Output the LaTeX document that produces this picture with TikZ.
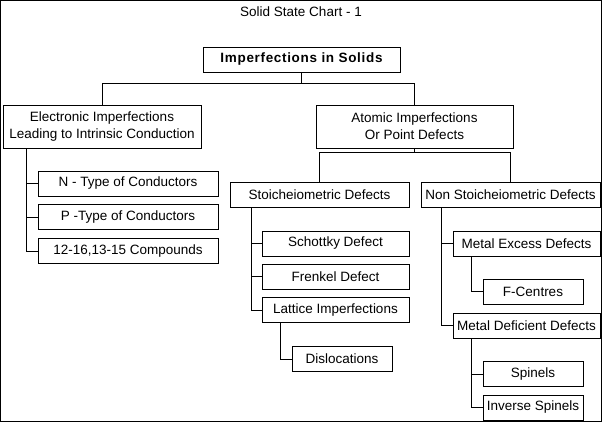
\documentclass[tikz,border=0pt]{standalone}
\usepackage{fontspec}
\setmainfont{Liberation Sans}
\begin{document}
\begin{tikzpicture}[
        x=1pt, y=-1pt,
        line width=1pt,
        font=\fontsize{13.5}{17}\selectfont,
        box/.style={draw, inner sep=0pt, minimum height=25pt, align=center},
        twoline/.style={box, minimum height=43pt},
        link/.style={draw}
    ]
    \useasboundingbox (0,0) rectangle (603,423);
    \draw (0.5,0.5) rectangle (601.5,421.5);
    \node (title) at (301,12) {Solid State Chart - 1};

    % top levels
    \node[box, minimum width=197pt, font=\fontsize{13.5}{17}\selectfont\bfseries\addfontfeature{LetterSpace=5}] (root) at (301.5,59.5) {Imperfections in Solids};
    \node[twoline, minimum width=198pt] (elec) at (102,126.5) {Electronic Imperfections\\Leading to Intrinsic Conduction};
    \node[twoline, minimum width=197pt] (atomic) at (414.5,126.5) {Atomic Imperfections\\Or Point Defects};

    % electronic branch
    \node[box, minimum width=180pt] (ntype) at (128,183.5) {N - Type of Conductors};
    \node[box, minimum width=180pt] (ptype) at (128,217) {P -Type of Conductors};
    \node[box, minimum width=180pt] (compounds) at (128,251) {12-16,13-15 Compounds};

    % atomic branch
    \node[box, minimum width=179pt] (stoich) at (319.5,194.5) {Stoicheiometric Defects};
    \node[box, minimum width=179pt] (nonstoich) at (510.5,194.5) {Non Stoicheiometric Defects};

    \node[box, minimum width=147pt] (schottky) at (335.5,243.5) {Schottky Defect};
    \node[box, minimum width=147pt] (frenkel) at (335.5,276.5) {Frenkel Defect};
    \node[box, minimum width=147pt] (lattice) at (335.5,310) {Lattice Imperfections};
    \node[box, minimum width=100pt] (disloc) at (342,359) {Dislocations};

    \node[box, minimum width=147pt] (excess) at (526.5,243.5) {Metal Excess Defects};
    \node[box, minimum width=100pt] (fcentres) at (533,291.5) {F-Centres};
    \node[box, minimum width=147pt] (deficient) at (526.5,325.5) {Metal Deficient Defects};
    \node[box, minimum width=100pt] (spinels) at (533,374) {Spinels};
    \node[box, minimum width=100pt] (inverse) at (533,407.5) {Inverse Spinels};

    % connectors
    \draw[link] (root.south) -- ++(0,11) -| (elec.north);
    \draw[link] (root.south) -- ++(0,11) -| (atomic.north);
    \draw[link] (atomic.south) -- ++(0,4) -| (stoich.north);
    \draw[link] (atomic.south) -- ++(0,4) -| (nonstoich.north);

    \foreach \kid in {ntype, ptype, compounds}
        \draw[link] ([xshift=24pt]elec.south west) |- (\kid.west);
    \foreach \kid in {schottky, frenkel, lattice}
        \draw[link] ([xshift=22pt]stoich.south west) |- (\kid.west);
    \draw[link] ([xshift=19pt]lattice.south west) |- (disloc.west);
    \foreach \kid in {excess, deficient}
        \draw[link] ([xshift=21pt]nonstoich.south west) |- (\kid.west);
    \draw[link] ([xshift=19pt]excess.south west) |- (fcentres.west);
    \foreach \kid in {spinels, inverse}
        \draw[link] ([xshift=19pt]deficient.south west) |- (\kid.west);
\end{tikzpicture}
\end{document}
